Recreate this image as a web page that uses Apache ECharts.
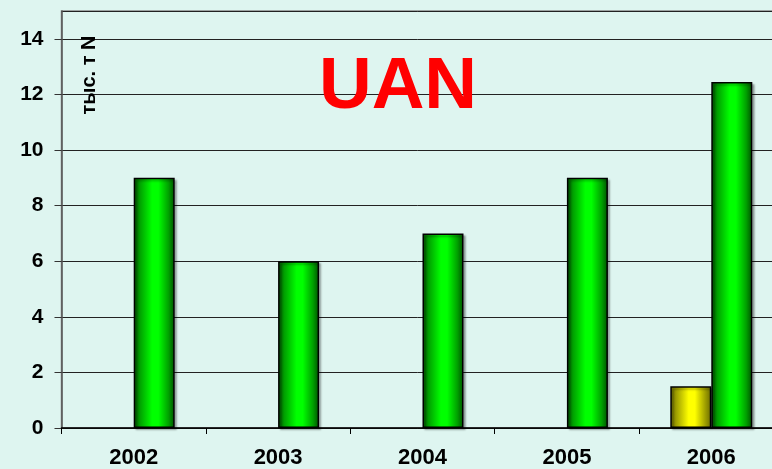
<!DOCTYPE html>
<html>
<head>
<meta charset="utf-8">
<script src="https://cdn.jsdelivr.net/npm/echarts@6/dist/echarts.min.js"></script>
<style>
html,body{margin:0;padding:0;background:#def5f0;}
#c{width:772px;height:469px;}
</style>
</head>
<body>
<div id="c"></div>
<script>
const categories = ['2002', '2003', '2004', '2005', '2006'];
const yellowValues = [null, null, null, null, 1.5];
const greenValues = [9.0, 6.0, 7.0, 9.0, 12.45];
const titleText = 'UAN';
const unitText = 'тыс. т N';

const chart = echarts.init(document.getElementById('c'));
const grad = (dark, light) => new echarts.graphic.LinearGradient(0, 0, 1, 0, [
  {offset: 0, color: dark[0]},
  {offset: 0.15, color: dark[1]},
  {offset: 0.45, color: light},
  {offset: 0.6, color: light},
  {offset: 0.85, color: dark[1]},
  {offset: 1, color: dark[0]}
]);
const barStyle = (c) => ({
  color: c,
  borderColor: '#000',
  borderWidth: 1.5,
  shadowColor: 'rgba(0,0,0,0.3)',
  shadowOffsetX: 2,
  shadowOffsetY: 2,
  shadowBlur: 2
});
chart.setOption({
  backgroundColor: '#def5f0',
  animation: false,
  grid: {left: 61.5, top: 11, height: 417, width: 722, containLabel: false, outerBoundsMode: 'none',
    show: true, borderColor: '#888', borderWidth: 1.5},
  xAxis: {
    type: 'category',
    data: categories,
    axisLine: {lineStyle: {color: '#000', width: 1.5}},
    axisTick: {show: true, length: 6, lineStyle: {color: '#000'}},
    axisLabel: {color: '#000', fontWeight: 'bold', fontSize: 22, fontFamily: 'Liberation Sans', margin: 19}
  },
  yAxis: {
    type: 'value',
    min: 0, max: 15, interval: 2,
    axisLine: {show: true, lineStyle: {color: '#555', width: 1.5}},
    axisTick: {show: true, length: 7, lineStyle: {color: '#333'}},
    axisLabel: {color: '#000', fontWeight: 'bold', fontSize: 21, fontFamily: 'Liberation Sans', margin: 18, showMaxLabel: false,
      formatter: v => (v % 2 === 0 ? String(v) : '')},
    splitLine: {lineStyle: {color: '#222', width: 1}}
  },
  series: [
    {type: 'bar', data: yellowValues, barWidth: 41, barGap: '0%',
      itemStyle: barStyle(grad(['#6a6a00', '#a0a000'], '#ffff00'))},
    {type: 'bar', data: greenValues, barWidth: 41, barGap: '0%',
      itemStyle: barStyle(grad(['#005000', '#00a000'], '#00ff00'))}
  ],
  graphic: [
    {type: 'text', x: 398, y: 88, z: 100,
      style: {text: titleText, fill: '#ff0000', font: 'bold 73px "Liberation Sans"', align: 'center', verticalAlign: 'middle'}},
    {type: 'text', x: 89, y: 75, rotation: Math.PI / 2, z: 100,
      style: {text: unitText, fill: '#000', font: 'bold 20px "Liberation Sans"', align: 'center', verticalAlign: 'middle'}}
  ]
});
</script>
</body>
</html>
